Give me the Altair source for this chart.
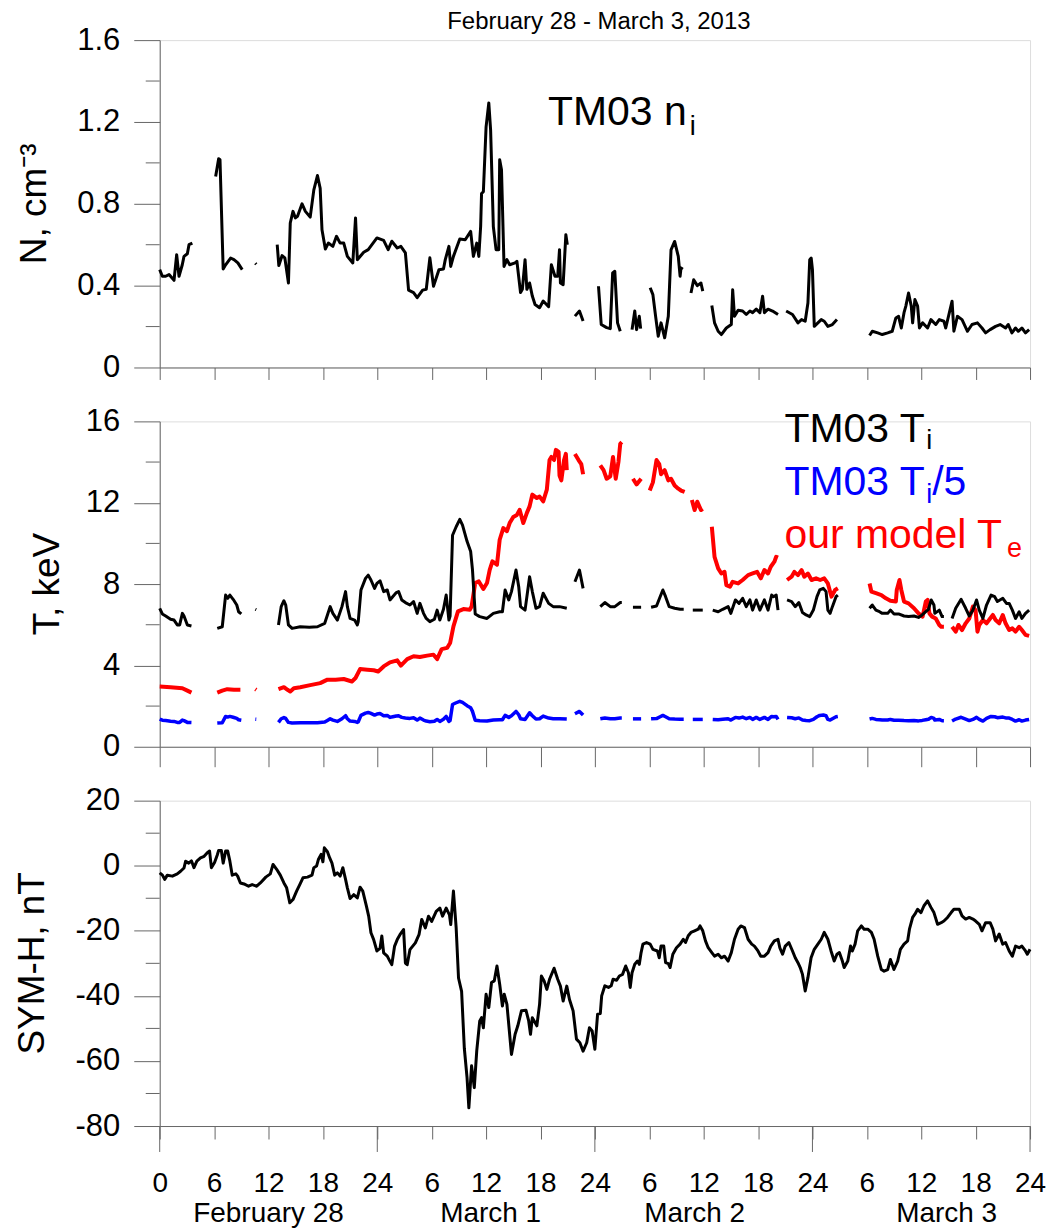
import altair as alt
import pandas as pd

FONT = "Liberation Sans"
AXC = "#666666"

# ---------------- data (hours from 0 UT Feb 28; None = data gap) ----------------
n_points = [
    (0, 0.478), (0.29, 0.446), (0.66, 0.446), (1.03, 0.454), (1.58, 0.426), (1.87, 0.551), (2.13, 0.446),
    (2.49, 0.502), (2.68, 0.543), (3.05, 0.556), (3.23, 0.6), (3.6, 0.608), None,
    (6.17, 0.933), (6.5, 1.02), (6.65, 1.015), (7.0, 0.481), (7.27, 0.502), (7.82, 0.535), (8.19, 0.527),
    (8.62, 0.511), (9.1, 0.478), None,
    (10.55, 0.51), (10.65, 0.505), None,
    (12.96, 0.6), (13.14, 0.498), (13.5, 0.547), (13.8, 0.536), (14.2, 0.413), (14.4, 0.706), (14.7, 0.763),
    (14.97, 0.731), (15.2, 0.739), (15.7, 0.8), (16.07, 0.763), (16.6, 0.735), (17.0, 0.868), (17.4, 0.938),
    (17.7, 0.876), (17.9, 0.673), (18.27, 0.579), (18.6, 0.608), (19.1, 0.592), (19.5, 0.641), (19.9, 0.608),
    (20.3, 0.608), (20.7, 0.543), (21.3, 0.511), (21.6, 0.731), (21.8, 0.527), (22.5, 0.563), (23.0, 0.576),
    (23.96, 0.633), (24.7, 0.621), (25.2, 0.576), (25.6, 0.617), (26.2, 0.584), (26.6, 0.592), (27.1, 0.56),
    (27.45, 0.378), (28.0, 0.366), (28.4, 0.341), (29.0, 0.378), (29.4, 0.382), (29.8, 0.536), (30.2, 0.397),
    (30.8, 0.478), (31.3, 0.481), (31.5, 0.527), (31.9, 0.592), (32.1, 0.494), (32.4, 0.543), (33.1, 0.628),
    (33.7, 0.624), (34.3, 0.665), (34.6, 0.543), (34.97, 0.608), (35.2, 0.543), (35.4, 0.689), (35.5, 0.85),
    (35.7, 0.859), (36.0, 1.176), (36.3, 1.293), (36.5, 1.16), (36.8, 0.689), (37.1, 0.576), (37.4, 0.576),
    (37.5, 1.015), (37.7, 0.966), (37.98, 0.494), (38.3, 0.527), (38.6, 0.502), (39.2, 0.511), (39.4, 0.519),
    (39.8, 0.366), (40.0, 0.382), (40.3, 0.527), (40.5, 0.382), (40.8, 0.413), (41.1, 0.349), (41.4, 0.308),
    (41.9, 0.292), (42.3, 0.325), (42.9, 0.297), (43.2, 0.502), (43.6, 0.446), (43.9, 0.446), (44.1, 0.576),
    (44.2, 0.413), (44.5, 0.405), (44.8, 0.649), (44.96, 0.6), None,
    (45.8, 0.251), (46.3, 0.276), (46.7, 0.227), None,
    (48.4, 0.397), (48.7, 0.21), (49.3, 0.195), (49.7, 0.19), (49.96, 0.462), (50.2, 0.47), (50.5, 0.218),
    (50.8, 0.177), None,
    (52.1, 0.185), (52.4, 0.276), (52.6, 0.185), (52.9, 0.25), (53.05, 0.19), None,
    (54.1, 0.39), (54.4, 0.356), (54.7, 0.25), (54.99, 0.153), (55.3, 0.218), (55.7, 0.145), (56.1, 0.25),
    (56.4, 0.575), (56.8, 0.616), (57.2, 0.543), (57.4, 0.446), (57.5, 0.486), (57.7, 0.48), None,
    (58.6, 0.364), (58.9, 0.429), (59.3, 0.40), (59.7, 0.413), (59.9, 0.373), None,
    (60.9, 0.303), (61.2, 0.218), (61.6, 0.177), (61.95, 0.161), (62.5, 0.193), (63.05, 0.21), (63.2, 0.38),
    (63.4, 0.25), (63.8, 0.28), (64.3, 0.276), (64.7, 0.259), (65.1, 0.276), (65.4, 0.268), (65.8, 0.285),
    (66.2, 0.268), (66.5, 0.348), (66.7, 0.268), (67.1, 0.285), (67.6, 0.276), (68.2, 0.259), None,
    (69.1, 0.276), (69.8, 0.259), (70.4, 0.218), (70.8, 0.234), (71.2, 0.226), (71.5, 0.315), (71.7, 0.527),
    (71.86, 0.535), (72.0, 0.478), (72.2, 0.201), (72.6, 0.218), (72.97, 0.234), (73.3, 0.226), (73.7, 0.201),
    (74.2, 0.21), (74.7, 0.234), None,
    (78.3, 0.156), (78.6, 0.177), (79.2, 0.169), (79.7, 0.161), (80.3, 0.169), (80.8, 0.177), (81.2, 0.242),
    (81.5, 0.25), (81.8, 0.193), (82.1, 0.268), (82.3, 0.3), (82.6, 0.364), (82.9, 0.3), (83.05, 0.218),
    (83.3, 0.332), (83.6, 0.3), (83.8, 0.193), (84.15, 0.218), (84.7, 0.193), (85.07, 0.234), (85.6, 0.21),
    (85.99, 0.234), (86.5, 0.226), (86.7, 0.193), (87.4, 0.324), (87.6, 0.177), (87.99, 0.25), (88.5, 0.234),
    (89.1, 0.177), (89.6, 0.21), (90.2, 0.218), (90.7, 0.193), (91.1, 0.169), (91.6, 0.185), (92.2, 0.201),
    (92.7, 0.21), (93.3, 0.193), (93.6, 0.21), (94.0, 0.169), (94.4, 0.193), (94.7, 0.177), (95.1, 0.193),
    (95.5, 0.169), (95.9, 0.185),
]

ti_points = [
    (0, 6.81), (0.29, 6.53), (0.66, 6.43), (1.2, 6.27), (1.58, 6.23), (1.94, 5.99), (2.2, 5.99), (2.5, 6.56),
    (2.68, 6.43), (3.05, 5.99), (3.5, 5.94), None,
    (6.35, 5.82), (6.9, 5.9), (7.27, 7.46), (7.5, 7.3), (7.74, 7.46), (8.1, 7.25), (8.5, 6.97), (8.7, 6.64),
    (9.0, 6.53), None,
    (10.55, 6.76), (10.65, 6.74), None,
    (13.1, 5.99), (13.4, 6.89), (13.7, 7.18), (13.9, 6.97), (14.2, 5.99), (14.6, 5.82), (15.5, 5.9), (16.5, 5.88),
    (17.4, 5.9), (18.2, 6.07), (18.5, 6.48), (18.8, 6.89), (19.1, 6.56), (19.6, 6.23), (20.1, 6.89), (20.5, 7.63),
    (20.7, 6.89), (21.0, 6.31), (21.5, 6.23), (21.8, 5.99), (21.9, 6.15), (22.2, 7.71), (22.7, 8.28), (23.0, 8.44),
    (23.3, 8.2), (23.7, 7.79), (23.96, 8.03), (24.3, 8.16), (24.7, 7.63), (25.1, 7.71), (25.4, 7.22), (25.7, 7.38),
    (26.1, 7.58), (26.35, 7.63), (26.7, 7.22), (27.1, 7.09), (27.6, 6.97), (28.0, 7.14), (28.4, 6.56), (28.7, 7.05),
    (29.1, 6.56), (29.4, 6.31), (29.8, 6.15), (30.3, 6.27), (30.6, 6.72), (30.9, 6.23), (31.3, 6.76), (31.6, 7.46),
    (31.9, 6.23), (32.03, 6.43), (32.3, 10.4), (32.7, 10.82), (33.1, 11.18), (33.4, 10.9), (33.9, 10.1),
    (34.3, 9.6), (34.5, 8.7), (34.8, 6.53), (35.3, 6.4), (36.1, 6.31), (36.8, 6.56), (37.5, 6.64), (37.8, 6.64),
    (38.1, 7.71), (38.5, 7.22), (38.8, 7.63), (39.3, 8.69), (39.6, 7.87), (39.8, 6.89), (40.3, 6.72), (40.8, 8.36),
    (41.1, 7.63), (41.5, 6.81), (41.9, 6.89), (42.3, 7.55), (42.9, 7.05), (43.4, 6.89), (44.1, 6.89), (44.9, 6.81),
    None,
    (45.8, 8.11), (46.3, 8.69), (46.7, 7.79), None,
    (48.6, 6.89), (49.1, 7.09), (49.7, 6.89), (50.2, 6.89), (50.8, 7.09), (50.97, 7.09), None,
    (52.2, 6.86), (53.1, 6.86), None,
    (54.2, 6.86), (54.8, 6.92), (55.2, 7.38), (55.5, 7.71), (55.8, 7.38), (56.2, 6.89), (56.8, 6.81), (57.4, 6.76),
    (57.8, 6.76), None,
    (58.8, 6.72), (59.9, 6.72), None,
    (61.0, 6.72), (61.6, 6.64), (62.1, 6.76), (62.7, 6.89), (63.0, 6.56), (63.5, 7.22), (63.9, 7.05), (64.3, 7.3),
    (64.7, 6.89), (65.1, 7.22), (65.4, 6.72), (65.8, 7.22), (66.2, 6.72), (66.7, 7.22), (67.1, 6.72), (67.5, 7.46),
    (67.7, 7.38), (68.0, 7.46), (68.2, 6.72), None,
    (69.2, 7.22), (69.7, 7.14), (70.1, 6.89), (70.5, 7.09), (70.9, 6.6), (71.3, 6.48), (71.7, 6.4), (72.1, 6.72),
    (72.5, 7.38), (72.8, 7.71), (73.2, 7.79), (73.5, 7.63), (73.7, 6.72), (73.95, 6.56), (74.2, 6.89), (74.6, 7.38),
    (74.8, 7.46), None,
    (78.3, 6.81), (78.6, 6.97), (79.0, 6.72), (79.4, 6.64), (79.7, 6.56), (80.3, 6.56), (80.6, 6.72), (81.0, 6.53),
    (81.5, 6.53), (82.1, 6.43), (82.6, 6.4), (83.2, 6.43), (83.7, 6.36), (84.1, 6.48), (84.5, 6.64), (84.8, 6.76),
    (85.1, 7.22), (85.4, 6.97), (85.5, 6.56), (85.99, 6.72), (86.3, 6.4), (86.5, 6.4), None,
    (87.4, 6.31), (87.8, 6.81), (88.4, 7.25), (88.9, 6.81), (89.3, 6.43), (89.7, 6.72), (90.1, 7.22), (90.4, 6.72),
    (90.8, 6.31), (91.2, 6.97), (91.7, 7.46), (92.1, 7.38), (92.4, 7.14), (93.0, 7.3), (93.4, 7.05), (93.7, 7.05),
    (94.05, 6.72), (94.4, 6.31), (94.8, 6.64), (95.1, 6.31), (95.5, 6.56), (95.9, 6.72),
]

te_points = [
    (0, 2.96), (1.2, 2.93), (2.5, 2.88), (3.05, 2.76), (3.5, 2.66), None,
    (6.35, 2.66), (6.9, 2.76), (7.45, 2.83), (8.19, 2.8), (8.9, 2.8), None,
    (10.55, 2.83), (10.65, 2.8), None,
    (13.1, 2.83), (13.7, 2.93), (14.1, 2.8), (14.4, 2.72), (14.8, 2.88), (15.5, 2.93), (16.6, 3.03), (17.7, 3.13),
    (18.5, 3.3), (19.4, 3.3), (20.3, 3.33), (21.2, 3.21), (21.6, 3.38), (22.1, 3.82), (22.9, 3.79), (23.6, 3.76),
    (24.1, 3.7), (24.7, 3.95), (25.4, 4.15), (26.2, 4.25), (26.6, 3.99), (27.3, 4.31), (28.0, 4.45), (28.7, 4.41),
    (29.5, 4.48), (30.2, 4.53), (30.6, 4.31), (31.1, 4.8), (31.7, 4.86), (32.03, 5.1), (32.4, 5.92), (32.9, 6.66),
    (33.5, 6.77), (34.2, 6.74), (34.4, 6.9), (34.8, 8.05), (35.2, 8.13), (35.7, 7.76), (36.1, 8.05), (36.4, 8.7),
    (36.7, 9.12), (37.2, 8.95), (37.5, 10.18), (37.9, 10.75), (38.3, 10.6), (38.6, 11.0), (39.0, 11.3),
    (39.4, 11.4), (39.7, 11.65), (40.1, 11.0), (40.5, 11.5), (40.8, 11.82), (41.1, 12.4), (41.6, 12.23),
    (41.9, 12.3), (42.3, 12.07), (42.7, 12.64), (43.0, 14.1), (43.2, 14.25), (43.5, 14.1), (43.7, 14.6),
    (44.0, 14.5), (44.1, 13.34), (44.3, 13.1), (44.6, 14.1), (44.8, 14.4), (44.9, 13.6), None,
    (45.8, 14.4), (46.2, 14.1), (46.5, 13.9), (46.7, 13.4), None,
    (48.6, 13.84), (48.96, 13.6), (49.3, 13.18), (49.7, 13.3), (50.0, 14.25), (50.3, 13.18), (50.6, 14.0),
    (50.8, 14.9), (50.97, 14.98), None,
    (52.2, 13.18), (52.6, 12.9), (53.1, 13.18), None,
    (54.05, 12.6), (54.4, 13.0), (54.8, 14.1), (55.1, 13.9), (55.3, 13.4), (55.7, 13.6), (56.1, 13.1),
    (56.4, 13.18), (56.8, 12.85), (57.2, 12.69), (57.5, 12.6), (57.9, 12.53), None,
    (58.7, 12.13), (59.0, 11.64), (59.3, 12.05), (59.7, 11.64), (59.9, 11.7), None,
    (60.9, 10.82), (61.2, 9.34), (61.6, 8.77), (61.95, 8.52), (62.3, 8.6), (62.5, 7.95), (62.9, 7.87), (63.2, 8.11),
    (63.8, 8.03), (64.3, 8.2), (64.9, 8.44), (65.4, 8.52), (65.9, 8.6), (66.3, 8.28), (66.7, 8.69), (67.1, 8.52),
    (67.4, 8.85), (67.8, 9.1), (68.0, 9.34), (68.2, 9.3), None,
    (69.2, 8.2), (69.7, 8.36), (70.0, 8.6), (70.4, 8.44), (70.8, 8.69), (71.1, 8.36), (71.5, 8.52), (71.9, 8.2),
    (72.4, 8.28), (72.85, 8.2), (73.3, 8.28), (73.7, 8.03), (74.1, 7.38), (74.5, 7.71), (74.8, 7.79), None,
    (78.3, 8.03), (78.5, 7.63), (79.0, 7.55), (79.6, 7.46), (80.1, 7.3), (80.6, 7.18), (81.2, 7.14), (81.3, 7.71),
    (81.6, 8.2), (81.8, 7.71), (82.1, 7.14), (82.6, 7.05), (83.2, 6.81), (83.7, 6.56), (84.15, 6.4), (84.5, 7.14),
    (84.7, 7.22), (84.9, 6.56), (85.2, 6.4), (85.6, 6.31), (85.99, 5.99), (86.2, 5.9), (86.5, 5.9), None,
    (87.4, 5.9), (87.8, 5.66), (88.1, 5.99), (88.5, 5.74), (88.9, 6.07), (89.3, 6.31), (89.7, 6.89), (89.99, 6.72),
    (90.2, 5.66), (90.4, 5.99), (90.8, 6.23), (91.2, 6.07), (91.6, 6.31), (91.9, 6.48), (92.2, 6.23), (92.6, 6.07),
    (92.99, 6.48), (93.3, 6.07), (93.7, 5.74), (94.05, 5.82), (94.4, 5.66), (94.8, 5.9), (95.1, 5.74), (95.5, 5.5),
    (95.9, 5.45),
]

symh_points = [
    (0, -2.2), (0.3, -2.9), (0.55, -4.2), (0.84, -2.9), (1.4, -3.2), (1.94, -2.5), (2.3, -1.7), (2.68, -0.7),
    (2.86, 1.4), (3.2, 0.8), (3.5, 1.5), (3.78, -0.6), (4.1, 1.4), (4.5, 2.4), (4.9, 2.9), (5.25, 4.0), (5.5, 4.5),
    (5.7, -0.6), (6.05, 1.0), (6.35, 3.3), (6.5, 4.7), (6.8, 4.7), (7.0, 0.8), (7.27, 4.5), (7.5, 4.5), (7.74, 1.4),
    (8.0, -2.9), (8.4, -2.5), (8.6, -3.2), (8.9, -5.3), (9.3, -5.6), (9.8, -6.3), (10.2, -5.8), (10.7, -6.3),
    (11.1, -5.3), (11.7, -3.5), (12.2, -2.5), (12.5, 0.4), (12.9, -1.1), (13.3, -2.9), (13.7, -5.3), (14.0, -6.8),
    (14.35, -11.4), (14.7, -10.4), (15.1, -7.8), (15.45, -5.8), (15.8, -3.7), (16.3, -3.5), (16.8, -2.9),
    (17.0, -0.6), (17.3, -0.1), (17.5, 1.9), (17.8, 3.5), (18.0, 1.2), (18.16, 5.5), (18.5, 4.3), (18.75, 2.4),
    (19.0, 0.8), (19.3, -2.9), (19.6, -2.2), (19.9, -3.2), (20.2, -0.6), (20.5, -4.2), (20.7, -6.8), (21.0, -10.1),
    (21.4, -8.9), (21.8, -9.9), (22.1, -6.6), (22.4, -7.8), (22.8, -12.4), (23.05, -15.5), (23.3, -20.6),
    (23.6, -22.7), (23.96, -26.2), (24.3, -25.4), (24.5, -21.6), (24.7, -26.8), (25.1, -27.8), (25.4, -29.4),
    (25.6, -30.4), (25.9, -24.8), (26.2, -22.7), (26.5, -21.2), (26.9, -19.6), (27.1, -29.9), (27.3, -30.4),
    (27.6, -25.8), (28.2, -23.7), (28.6, -21.2), (28.9, -16.5), (29.3, -19.1), (29.65, -15.5), (30.0, -17.1),
    (30.5, -14.0), (30.9, -13.0), (31.2, -15.5), (31.6, -13.0), (31.96, -15.1), (32.1, -18.1), (32.4, -7.8),
    (32.7, -19.1), (32.96, -34.5), (33.3, -38.6), (33.6, -56.1), (33.9, -65.1), (34.1, -74.4), (34.4, -61.5),
    (34.7, -68.2), (34.97, -56.9), (35.3, -47.7), (35.5, -46.7), (35.7, -49.8), (36.0, -39.5), (36.3, -43.6),
    (36.6, -35.9), (36.9, -35.4), (37.2, -30.8), (37.5, -36.4), (37.8, -43.1), (38.0, -39.5), (38.3, -42.6),
    (38.8, -58.0), (39.2, -51.8), (39.5, -49.2), (39.9, -44.6), (40.4, -44.4), (40.7, -47.7), (40.9, -51.8),
    (41.1, -46.7), (41.6, -49.2), (41.9, -42.6), (42.1, -33.9), (42.4, -35.4), (42.7, -38.0), (43.0, -34.9),
    (43.5, -31.5), (43.9, -34.9), (44.2, -37.0), (44.5, -41.6), (44.9, -37.0), (45.2, -41.1), (45.6, -44.6),
    (45.97, -53.3), (46.35, -54.4), (46.7, -57.0), (47.1, -54.4), (47.4, -49.8), (47.7, -50.8), (48.0, -56.4),
    (48.3, -45.6), (48.6, -45.4), (48.75, -40.0), (49.1, -36.9), (49.5, -37.4), (49.8, -36.9), (50.0, -34.9),
    (50.4, -35.2), (50.7, -33.9), (51.05, -33.4), (51.4, -30.8), (51.7, -32.9), (51.9, -37.4), (52.1, -32.9),
    (52.4, -30.3), (52.7, -29.3), (52.9, -30.3), (53.1, -26.7), (53.3, -24.1), (53.7, -23.6), (54.1, -24.1),
    (54.4, -25.7), (54.9, -26.2), (55.1, -28.3), (55.3, -24.7), (55.6, -24.7), (55.8, -29.8), (56.1, -30.1),
    (56.3, -31.3), (56.6, -27.2), (57.0, -25.2), (57.4, -24.1), (57.75, -22.6), (58.0, -23.6), (58.3, -21.5),
    (58.6, -20.5), (59.0, -20.0), (59.4, -19.5), (59.6, -18.5), (59.9, -20.0), (60.2, -23.1), (60.5, -25.2),
    (60.9, -26.7), (61.2, -27.8), (61.6, -27.2), (61.95, -28.3), (62.3, -27.8), (62.7, -29.3), (63.05, -26.7),
    (63.4, -22.6), (63.8, -19.5), (64.1, -18.5), (64.5, -19.0), (64.9, -22.6), (65.3, -24.1), (65.6, -24.7),
    (65.99, -26.2), (66.3, -27.8), (66.7, -27.8), (67.1, -26.7), (67.4, -24.7), (67.8, -23.1), (68.2, -22.6),
    (68.4, -25.2), (68.7, -27.2), (69.0, -24.7), (69.4, -23.6), (69.8, -26.2), (70.1, -28.3), (70.4, -29.8),
    (70.65, -31.3), (70.9, -33.4), (71.2, -38.5), (71.5, -34.4), (71.85, -28.3), (72.2, -25.7), (72.6, -24.1),
    (72.97, -22.6), (73.3, -20.5), (73.7, -22.6), (74.05, -26.2), (74.4, -29.3), (74.7, -27.2), (74.97, -26.7),
    (75.3, -29.3), (75.5, -31.3), (75.9, -29.3), (76.2, -24.7), (76.4, -26.2), (76.7, -24.1), (76.99, -20.0),
    (77.4, -18.5), (77.7, -19.5), (78.1, -19.5), (78.5, -20.5), (78.8, -22.6), (79.2, -27.8), (79.6, -31.9),
    (79.9, -32.4), (80.3, -31.9), (80.6, -28.8), (80.99, -31.9), (81.4, -29.3), (81.7, -25.7), (82.1, -24.1),
    (82.5, -23.1), (82.7, -19.5), (83.05, -15.9), (83.3, -14.9), (83.6, -13.4), (83.97, -14.4), (84.3, -12.3),
    (84.7, -10.8), (85.07, -12.8), (85.4, -14.4), (85.8, -18.0), (86.2, -17.5), (86.5, -17.0), (86.9, -15.9),
    (87.3, -14.4), (87.6, -13.4), (88.2, -13.4), (88.5, -15.4), (88.9, -16.4), (89.3, -15.9), (89.7, -16.4),
    (90.0, -17.0), (90.4, -18.0), (90.7, -20.0), (91.1, -17.5), (91.6, -17.5), (91.9, -19.5), (92.2, -23.1),
    (92.6, -21.0), (92.99, -24.1), (93.3, -23.6), (93.7, -26.2), (94.05, -27.8), (94.4, -24.7), (94.8, -25.2),
    (95.1, -24.7), (95.5, -26.2), (95.7, -27.2), (96.0, -25.7),
]

# axis tick values
x_ticks = [0, 6, 12, 18, 24, 30, 36, 42, 48, 54, 60, 66, 72, 78, 84, 90, 96]
day_edges = [0, 24, 48, 72, 96]
day_names = ["February 28", "March 1", "March 2", "March 3"]
day_centers = [12, 36.5, 59, 86.8]
n_major = [0, 0.4, 0.8, 1.2, 1.6]
n_minor = [0.2, 0.6, 1.0, 1.4]
t_major = [0, 4, 8, 12, 16]
t_minor = [2, 6, 10, 14]
s_major = [-80, -60, -40, -20, 0, 20]
s_minor = [-70, -50, -30, -10, 10]


def to_frame(points):
    rows, seg = [], 0
    for p in points:
        if p is None:
            seg += 1
            continue
        rows.append({"h": p[0], "v": p[1], "seg": seg})
    return pd.DataFrame(rows)


n_df = to_frame(n_points)
ti_df = to_frame(ti_points)
te_df = to_frame(te_points)
s_df = to_frame(symh_points)

W = 872
H1, H2, H3 = 328, 326, 326

xs = alt.Scale(domain=[0, 96], nice=False, zero=False, padding=0)


def x_axis_plain(ticksize):
    return alt.Axis(values=x_ticks, labels=False, tickSize=ticksize, tickColor=AXC, domainColor=AXC,
                    grid=False, title=None, ticks=True)


def y_axis(vals):
    return alt.Axis(values=vals, tickSize=26, tickColor=AXC, domainColor=AXC, grid=False, title=None,
                    labelFont=FONT, labelFontSize=31, labelColor="black", labelPadding=14,
                    labelFlush=False, labelOverlap=False,
                    labelExpr="'' + datum.value")


def minor_rules(vals, ys, yax):
    return alt.Chart(pd.DataFrame({"v": vals})).mark_rule(color=AXC, strokeWidth=1).encode(
        y=alt.Y("v:Q", scale=ys, axis=yax), x=alt.value(-14), x2=alt.value(0))


def label(text, x, y, size, color="black", angle=0, align="left", baseline="alphabetic"):
    return alt.Chart(pd.DataFrame({"t": [text]})).mark_text(
        text=text, x=x, y=y, fontSize=size, font=FONT, color=color, angle=angle, align=align,
        baseline=baseline)


# ---------------- panel 1 ----------------
ys1 = alt.Scale(domain=[0, 1.6], nice=False, zero=False)
yax1 = y_axis(n_major)
p1_line = alt.Chart(n_df).mark_line(color="black", strokeWidth=3, strokeJoin="round").encode(
    x=alt.X("h:Q", scale=xs, axis=x_axis_plain(12)),
    y=alt.Y("v:Q", scale=ys1, axis=yax1),
    detail="seg:N")
p1 = alt.layer(
    p1_line,
    minor_rules(n_minor, ys1, yax1),
    label("February 28 - March 3, 2013", 440, -18, 24, align="center", baseline="middle"),
    label("N, cm\u207b\u00b3", -125, H1 / 2, 37, angle=270, align="center", baseline="middle"),
    label("TM03 n", 389, 85, 41),
    label("i", 531, 95, 27),
).properties(width=W, height=H1)

# ---------------- panel 2 ----------------
ys2 = alt.Scale(domain=[0, 16], nice=False, zero=False)
yax2 = y_axis(t_major)
xax2 = x_axis_plain(20)
p2_ti = alt.Chart(ti_df).mark_line(color="black", strokeWidth=3, strokeJoin="round").encode(
    x=alt.X("h:Q", scale=xs, axis=xax2),
    y=alt.Y("v:Q", scale=ys2, axis=yax2),
    detail="seg:N")
p2_ti5 = alt.Chart(ti_df).transform_calculate(v5="datum.v / 5").mark_line(
    color="#0000ff", strokeWidth=3.5, strokeJoin="round").encode(
    x=alt.X("h:Q", scale=xs, axis=xax2), y=alt.Y("v5:Q", scale=ys2, axis=yax2), detail="seg:N")
p2_te = alt.Chart(te_df).mark_line(color="#ff0000", strokeWidth=4, strokeJoin="round").encode(
    x=alt.X("h:Q", scale=xs, axis=xax2), y=alt.Y("v:Q", scale=ys2, axis=yax2), detail="seg:N")
p2 = alt.layer(
    p2_te, p2_ti5, p2_ti,
    minor_rules(t_minor, ys2, yax2),
    label("T, keV", -112, H2 / 2, 37, angle=270, align="center", baseline="middle"),
    label("TM03 T", 626, 21, 41),
    label("i", 768, 28, 27),
    label("TM03 T", 626, 74, 41, color="#0000ff"),
    label("i", 768, 82, 27, color="#0000ff"),
    label("/5", 774, 74, 41, color="#0000ff"),
    label("our model T", 626, 127, 41, color="#ff0000"),
    label("e", 849, 136, 27, color="#ff0000"),
).properties(width=W, height=H2)

# ---------------- panel 3 ----------------
ys3 = alt.Scale(domain=[-80, 20], nice=False, zero=False)
yax3 = y_axis(s_major)
x_axis3 = alt.Axis(values=x_ticks, tickSize=13, tickColor=AXC, domainColor=AXC, grid=False, title=None,
                   labelFont=FONT, labelFontSize=28, labelColor="black", labelPadding=31,
                   labelFlush=False, labelOverlap=False, labelBound=False,
                   labelExpr="datum.value == 0 ? '0' : (datum.value % 24 == 0 ? '24' : '' + (datum.value % 24))")
p3_line = alt.Chart(s_df).mark_line(color="black", strokeWidth=3, strokeJoin="round").encode(
    x=alt.X("h:Q", scale=xs, axis=x_axis3),
    y=alt.Y("v:Q", scale=ys3, axis=yax3))
long_ticks = alt.Chart(pd.DataFrame({"h": day_edges})).mark_rule(color=AXC, strokeWidth=1).encode(
    x=alt.X("h:Q", scale=xs, axis=x_axis3), y=alt.value(H3), y2=alt.value(H3 + 26))
day_labels = alt.Chart(pd.DataFrame({"h": day_centers, "name": day_names})).mark_text(
    font=FONT, fontSize=28, color="black", baseline="alphabetic", align="center", y=H3 + 96).encode(
    x=alt.X("h:Q", scale=xs, axis=x_axis3), text="name:N")
p3 = alt.layer(
    p3_line, minor_rules(s_minor, ys3, yax3), long_ticks, day_labels,
    label("SYM-H, nT", -127, H3 / 2, 37, angle=270, align="center", baseline="middle"),
).properties(width=W, height=H3)

chart = alt.vconcat(p1, p2, p3, spacing=54, bounds="flush").configure_view(stroke=None).configure(
    padding={"left": 5, "top": 0, "right": 0, "bottom": 0}, background="white")

chart.save("out.html", embed_options={"renderer": "svg", "actions": False})
